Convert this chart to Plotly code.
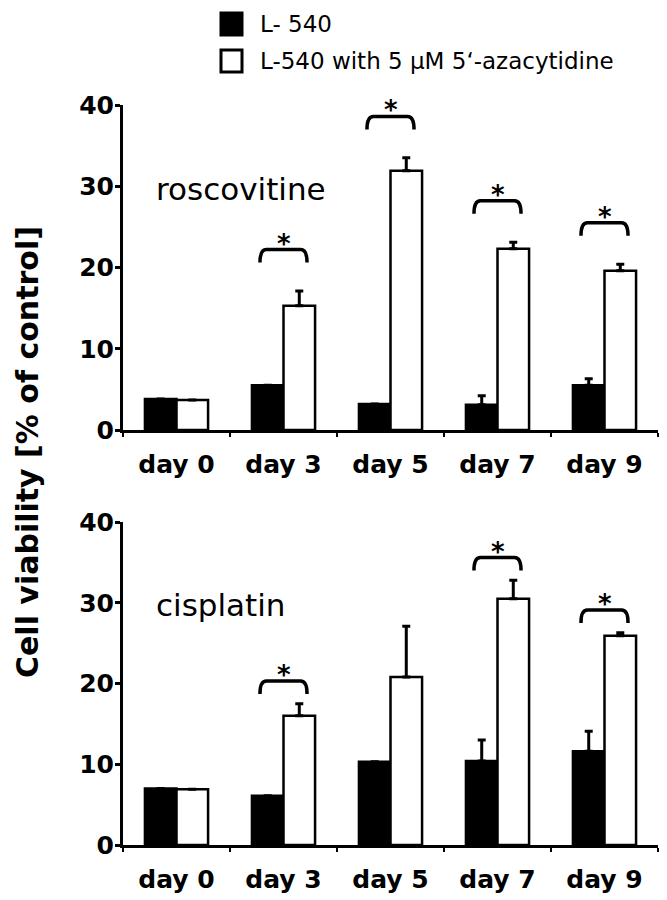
import plotly.graph_objects as go

# ---------------- data ----------------
days = ["day 0", "day 3", "day 5", "day 7", "day 9"]

rosc_ctrl = [3.8, 5.5, 3.2, 3.1, 5.5]
rosc_ctrl_err = [0, 0, 0, 1.1, 0.8]
rosc_aza = [3.7, 15.3, 31.9, 22.3, 19.6]
rosc_aza_err = [0, 1.8, 1.6, 0.8, 0.8]
rosc_sig = [False, True, True, True, True]

cis_ctrl = [7.0, 6.1, 10.3, 10.4, 11.6]
cis_ctrl_err = [0, 0, 0, 2.6, 2.5]
cis_aza = [6.9, 16.0, 20.8, 30.5, 25.9]
cis_aza_err = [0, 1.5, 6.3, 2.3, 0.4]
cis_sig = [False, True, False, True, True]

y_ticks = [0, 10, 20, 30, 40]
series_names = ["L- 540", "L-540 with 5 \u03bcM 5\u2018-azacytidine"]
panel_names = ["roscovitine", "cisplatin"]

# ---------------- figure ----------------
# the page body has an 8px margin; lay out in page pixels and offset
OFF = 8
W, H = 667 - OFF, 900 - OFF
FONT = "DejaVu Sans"
xpos = list(range(len(days)))


def px(x):
    return (x - OFF) / W


def py(y):
    return 1 - (y - OFF) / H


fig = go.Figure()

panels = [
    (rosc_ctrl, rosc_ctrl_err, rosc_aza, rosc_aza_err, rosc_sig, "x", "y", 5.1),
    (cis_ctrl, cis_ctrl_err, cis_aza, cis_aza_err, cis_sig, "x2", "y2", 2.8),
]

err_style = dict(type="data", symmetric=False, color="black", thickness=3, width=4)

shapes = []
annotations = []
for p, (ctrl, ctrl_e, aza, aza_e, sig, xa, ya, off) in enumerate(panels):
    fig.add_trace(go.Bar(
        x=xpos, y=ctrl, name=series_names[0], xaxis=xa, yaxis=ya,
        marker=dict(color="black", line=dict(color="black", width=2.5)),
        error_y=dict(array=ctrl_e, arrayminus=[0] * len(ctrl), **err_style),
        showlegend=False,
    ))
    fig.add_trace(go.Bar(
        x=xpos, y=aza, name=series_names[1], xaxis=xa, yaxis=ya,
        marker=dict(color="white", line=dict(color="black", width=2.5)),
        error_y=dict(array=aza_e, arrayminus=[0] * len(aza), **err_style),
        showlegend=False,
    ))
    # significance brackets
    for i, s in enumerate(sig):
        if not s:
            continue
        top = max(ctrl[i] + ctrl_e[i], aza[i] + aza_e[i]) + off
        xl, xr = i - 0.22, i + 0.22
        yb = top - 1.6
        path = (f"M {xl},{yb} Q {xl},{top} {xl + 0.06},{top} "
                f"L {xr - 0.06},{top} Q {xr},{top} {xr},{yb}")
        shapes.append(dict(type="path", path=path, xref=xa, yref=ya,
                           line=dict(color="black", width=3.5)))
        annotations.append(dict(x=i, y=top, xref=xa, yref=ya, text="*",
                                showarrow=False, yanchor="bottom", yshift=-11,
                                font=dict(family=FONT, size=26, color="black", weight="bold")))
    annotations.append(dict(x=-0.21, y=29.7, xref=xa, yref=ya, text=panel_names[p],
                            showarrow=False, xanchor="left", yanchor="middle",
                            font=dict(family=FONT, size=31, color="black")))

# legend (drawn manually to match the large swatches)
sw = [(13, 35, "black"), (50, 72, "white")]
for k, (t, b, col) in enumerate(sw):
    shapes.append(dict(type="rect", xref="paper", yref="paper",
                       x0=px(221), x1=px(242), y0=py(b), y1=py(t),
                       fillcolor=col, line=dict(color="black", width=3)))
    annotations.append(dict(x=px(258), y=py((t + b) / 2), xref="paper", yref="paper",
                            text=series_names[k], showarrow=False,
                            xanchor="left", yanchor="middle",
                            font=dict(family=FONT, size=23, color="black")))

# y axis title
annotations.append(dict(x=px(27), y=py(452), xref="paper", yref="paper",
                        text="Cell viability [% of control]", textangle=-90,
                        showarrow=False, xanchor="center", yanchor="middle",
                        font=dict(family=FONT, size=30, color="black", weight="bold")))

tickfont = dict(family=FONT, size=25, color="black", weight="bold")
xdom = [px(123), px(658)]
xaxis_common = dict(
    range=[-0.5, 4.5], tickmode="array", tickvals=xpos, ticktext=days,
    ticks="", showgrid=False, zeroline=False, showline=True, automargin=False,
    linecolor="black", linewidth=3, tickfont=tickfont, ticklabelstandoff=10,
    minor=dict(tickmode="linear", tick0=0.5, dtick=1, ticks="outside",
               ticklen=4, tickwidth=1.5, tickcolor="black", showgrid=False),
    domain=xdom, fixedrange=True,
)
yaxis_common = dict(
    range=[0, 40], tickmode="array", tickvals=y_ticks, ticks="outside",
    ticklen=5, tickwidth=3, tickcolor="black", showgrid=False, zeroline=False,
    showline=True, linecolor="black", linewidth=3, tickfont=tickfont,
    ticklabelstandoff=-4, fixedrange=True, automargin=False,
)

fig.update_layout(
    width=W, height=H,
    margin=dict(l=0, r=0, t=0, b=0, pad=0, autoexpand=False),
    paper_bgcolor="white", plot_bgcolor="white",
    barmode="group", bargap=0.41, bargroupgap=0,
    showlegend=False,
    xaxis=dict(anchor="y", **xaxis_common),
    yaxis=dict(anchor="x", domain=[py(430), py(105)], **yaxis_common),
    xaxis2=dict(anchor="y2", **xaxis_common),
    yaxis2=dict(anchor="x2", domain=[py(845), py(522)], **yaxis_common),
    shapes=shapes, annotations=annotations,
)

fig.write_html("out.html")
